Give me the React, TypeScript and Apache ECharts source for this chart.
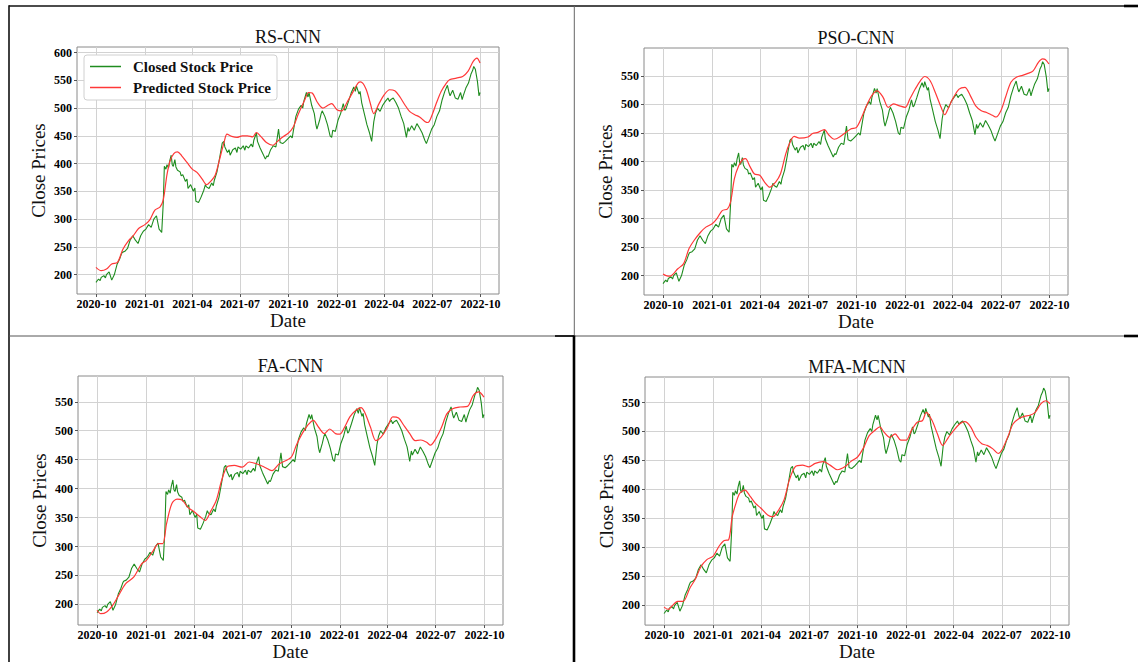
import React, { useEffect, useRef } from 'react';
import * as echarts from 'echarts';

const FONT = '"Liberation Serif", "Times New Roman", serif';

const panelTitles = ['RS-CNN', 'PSO-CNN', 'FA-CNN', 'MFA-MCNN'];
const xTickDates = ['2020-10-01', '2021-01-01', '2021-04-01', '2021-07-01', '2021-10-01', '2022-01-01', '2022-04-01', '2022-07-01', '2022-10-01'];
const yTicksRs = [200, 250, 300, 350, 400, 450, 500, 550, 600];
const yTicksOther = [200, 250, 300, 350, 400, 450, 500, 550];
const seriesNames = ['Closed Stock Price', 'Predicted Stock Price'];

const closedStockPrice: [string, number][] = [
  ['2020-09-30', 186], ['2020-10-05', 192], ['2020-10-08', 189], ['2020-10-10', 195], ['2020-10-15', 198], ['2020-10-18', 194],
  ['2020-10-20', 200], ['2020-10-25', 205], ['2020-10-30', 190], ['2020-11-04', 200], ['2020-11-09', 218], ['2020-11-14', 228],
  ['2020-11-17', 236], ['2020-11-19', 240], ['2020-11-24', 242], ['2020-11-29', 247], ['2020-12-04', 262], ['2020-12-09', 270],
  ['2020-12-14', 262], ['2020-12-19', 256], ['2020-12-24', 270], ['2020-12-29', 278], ['2021-01-03', 282], ['2021-01-08', 290],
  ['2021-01-13', 285], ['2021-01-18', 300], ['2021-01-23', 306], ['2021-01-28', 282], ['2021-02-02', 276], ['2021-02-05', 330],
  ['2021-02-07', 395], ['2021-02-10', 390], ['2021-02-12', 398], ['2021-02-15', 392], ['2021-02-17', 404], ['2021-02-20', 415],
  ['2021-02-22', 398], ['2021-02-24', 395], ['2021-02-27', 407], ['2021-03-01', 394], ['2021-03-04', 388], ['2021-03-09', 385],
  ['2021-03-11', 378], ['2021-03-14', 380], ['2021-03-19', 368], ['2021-03-22', 372], ['2021-03-24', 355], ['2021-03-29', 362],
  ['2021-04-03', 350], ['2021-04-06', 356], ['2021-04-08', 332], ['2021-04-13', 330], ['2021-04-18', 340], ['2021-04-23', 352],
  ['2021-04-26', 362], ['2021-04-28', 358], ['2021-05-03', 355], ['2021-05-08', 365], ['2021-05-11', 360], ['2021-05-13', 370],
  ['2021-05-18', 385], ['2021-05-23', 410], ['2021-05-28', 437], ['2021-05-31', 440], ['2021-06-02', 430], ['2021-06-07', 420],
  ['2021-06-10', 425], ['2021-06-12', 415], ['2021-06-17', 425], ['2021-06-22', 428], ['2021-06-25', 420], ['2021-06-27', 430],
  ['2021-07-02', 426], ['2021-07-07', 432], ['2021-07-10', 424], ['2021-07-12', 432], ['2021-07-17', 428], ['2021-07-22', 435],
  ['2021-07-25', 430], ['2021-07-27', 442], ['2021-08-01', 455], ['2021-08-03', 440], ['2021-08-08', 428], ['2021-08-13', 418],
  ['2021-08-18', 408], ['2021-08-21', 414], ['2021-08-23', 412], ['2021-08-28', 425], ['2021-09-02', 432], ['2021-09-07', 430],
  ['2021-09-12', 462], ['2021-09-15', 438], ['2021-09-20', 436], ['2021-09-25', 440], ['2021-09-30', 445], ['2021-10-05', 450],
  ['2021-10-08', 446], ['2021-10-10', 458], ['2021-10-15', 485], ['2021-10-20', 498], ['2021-10-25', 505], ['2021-10-28', 500],
  ['2021-10-30', 512], ['2021-11-04', 528], ['2021-11-07', 520], ['2021-11-09', 528], ['2021-11-14', 505], ['2021-11-19', 490],
  ['2021-11-22', 470], ['2021-11-24', 462], ['2021-11-29', 478], ['2021-12-02', 490], ['2021-12-04', 495], ['2021-12-09', 485],
  ['2021-12-14', 470], ['2021-12-19', 450], ['2021-12-22', 447], ['2021-12-24', 460], ['2021-12-29', 458], ['2022-01-03', 478],
  ['2022-01-08', 490], ['2022-01-13', 508], ['2022-01-16', 496], ['2022-01-18', 498], ['2022-01-23', 512], ['2022-01-28', 527],
  ['2022-02-02', 538], ['2022-02-05', 530], ['2022-02-07', 540], ['2022-02-12', 525], ['2022-02-14', 530], ['2022-02-17', 510],
  ['2022-02-22', 490], ['2022-02-27', 470], ['2022-03-04', 455], ['2022-03-08', 440], ['2022-03-12', 475], ['2022-03-15', 490],
  ['2022-03-19', 500], ['2022-03-24', 494], ['2022-03-29', 505], ['2022-04-03', 512], ['2022-04-08', 518], ['2022-04-11', 512],
  ['2022-04-13', 515], ['2022-04-18', 518], ['2022-04-23', 510], ['2022-04-28', 500], ['2022-05-03', 485], ['2022-05-08', 472],
  ['2022-05-13', 447], ['2022-05-16', 465], ['2022-05-18', 458], ['2022-05-23', 468], ['2022-05-28', 460], ['2022-06-02', 472],
  ['2022-06-07', 464], ['2022-06-12', 455], ['2022-06-17', 442], ['2022-06-20', 436], ['2022-06-25', 449], ['2022-06-30', 462],
  ['2022-07-05', 470], ['2022-07-10', 485], ['2022-07-15', 495], ['2022-07-20', 515], ['2022-07-25', 530], ['2022-07-30', 541],
  ['2022-08-02', 528], ['2022-08-04', 522], ['2022-08-09', 532], ['2022-08-14', 518], ['2022-08-19', 516], ['2022-08-24', 528],
  ['2022-08-27', 515], ['2022-08-29', 522], ['2022-09-03', 536], ['2022-09-08', 545], ['2022-09-13', 562], ['2022-09-16', 568],
  ['2022-09-18', 575], ['2022-09-21', 570], ['2022-09-25', 548], ['2022-09-28', 522], ['2022-09-30', 528],
];

const rsCnnPredicted: [string, number][] = [
  ['2020-09-30', 213], ['2020-10-10', 207], ['2020-10-20', 210], ['2020-10-30', 219], ['2020-11-10', 222], ['2020-11-20', 245],
  ['2020-12-01', 261], ['2020-12-10', 270], ['2020-12-20', 283], ['2021-01-01', 290], ['2021-01-10', 298], ['2021-01-20', 316],
  ['2021-01-30', 322], ['2021-02-05', 335], ['2021-02-12', 380], ['2021-02-18', 405], ['2021-02-25', 418], ['2021-03-04', 421],
  ['2021-03-12', 414], ['2021-03-22', 402], ['2021-04-01', 390], ['2021-04-10', 384], ['2021-04-20', 372], ['2021-04-28', 362],
  ['2021-05-06', 368], ['2021-05-15', 380], ['2021-05-25', 415], ['2021-06-01', 440], ['2021-06-06', 453], ['2021-06-15', 449],
  ['2021-06-25', 447], ['2021-07-05', 450], ['2021-07-15', 450], ['2021-07-25', 448], ['2021-08-01', 456], ['2021-08-10', 448],
  ['2021-08-20', 438], ['2021-09-01', 433], ['2021-09-10', 440], ['2021-09-20', 448], ['2021-10-01', 455], ['2021-10-10', 466],
  ['2021-10-20', 490], ['2021-11-01', 515], ['2021-11-08', 528], ['2021-11-15', 527], ['2021-11-25', 510], ['2021-12-05', 500],
  ['2021-12-15', 505], ['2021-12-22', 508], ['2022-01-01', 497], ['2022-01-10', 495], ['2022-01-20', 510], ['2022-02-01', 530],
  ['2022-02-10', 545], ['2022-02-15', 547], ['2022-02-25', 535], ['2022-03-05', 510], ['2022-03-12', 490], ['2022-03-22', 508],
  ['2022-04-01', 524], ['2022-04-11', 533], ['2022-04-21', 531], ['2022-04-30', 521], ['2022-05-10', 506], ['2022-05-19', 494],
  ['2022-05-29', 488], ['2022-06-07', 484], ['2022-06-17', 476], ['2022-06-23', 474], ['2022-07-01', 488], ['2022-07-09', 509],
  ['2022-07-18', 530], ['2022-07-28', 545], ['2022-08-03', 551], ['2022-08-16', 554], ['2022-08-28', 557], ['2022-09-07', 566],
  ['2022-09-17', 584], ['2022-09-24', 590], ['2022-09-30', 581],
];

const psoCnnPredicted: [string, number][] = [
  ['2020-09-30', 203], ['2020-10-06', 200], ['2020-10-13', 199], ['2020-10-28', 212], ['2020-11-08', 221], ['2020-11-18', 247],
  ['2020-11-28', 262], ['2020-12-10', 276], ['2020-12-20', 285], ['2021-01-01', 291], ['2021-01-10', 300], ['2021-01-20', 314],
  ['2021-01-30', 317], ['2021-02-05', 330], ['2021-02-12', 370], ['2021-02-20', 392], ['2021-02-28', 404], ['2021-03-05', 405],
  ['2021-03-13', 392], ['2021-03-22', 378], ['2021-04-01', 376], ['2021-04-10', 364], ['2021-04-20', 355], ['2021-05-01', 364],
  ['2021-05-10', 378], ['2021-05-20', 413], ['2021-05-27', 431], ['2021-06-05', 444], ['2021-06-15', 441], ['2021-07-01', 443],
  ['2021-07-10', 449], ['2021-07-20', 451], ['2021-08-01', 456], ['2021-08-10', 446], ['2021-08-20', 439], ['2021-08-30', 443],
  ['2021-09-20', 457], ['2021-10-01', 460], ['2021-10-11', 478], ['2021-10-20', 498], ['2021-10-30', 516], ['2021-11-09', 524],
  ['2021-11-20', 513], ['2021-11-30', 495], ['2021-12-10', 501], ['2021-12-20', 498], ['2022-01-01', 495], ['2022-01-10', 510],
  ['2022-01-20', 527], ['2022-01-30', 542], ['2022-02-07', 549], ['2022-02-17', 542], ['2022-02-27', 521], ['2022-03-10', 495],
  ['2022-03-17', 482], ['2022-03-24', 494], ['2022-04-01', 510], ['2022-04-13', 527], ['2022-04-24', 530], ['2022-05-04', 516],
  ['2022-05-14', 498], ['2022-05-25', 489], ['2022-06-04', 486], ['2022-06-15', 481], ['2022-06-22', 478], ['2022-07-01', 489],
  ['2022-07-10', 513], ['2022-07-20', 539], ['2022-07-31', 548], ['2022-08-11', 551], ['2022-08-20', 554], ['2022-08-31', 559],
  ['2022-09-10', 574], ['2022-09-18', 580], ['2022-09-23', 579], ['2022-09-30', 571],
];

const faCnnPredicted: [string, number][] = [
  ['2020-09-30', 190], ['2020-10-07', 184], ['2020-10-18', 187], ['2020-10-29', 198], ['2020-11-08', 213], ['2020-11-23', 236],
  ['2020-12-08', 247], ['2020-12-23', 270], ['2021-01-01', 276], ['2021-01-14', 293], ['2021-01-24', 305], ['2021-02-01', 305],
  ['2021-02-08', 339], ['2021-02-18', 374], ['2021-02-28', 382], ['2021-03-10', 380], ['2021-03-20', 368], ['2021-04-01', 360],
  ['2021-04-13', 351], ['2021-04-22', 345], ['2021-05-03', 362], ['2021-05-13', 380], ['2021-05-23', 414], ['2021-06-02', 437],
  ['2021-06-16', 440], ['2021-07-01', 437], ['2021-07-14', 446], ['2021-07-28', 443], ['2021-08-12', 437], ['2021-08-26', 431],
  ['2021-09-09', 443], ['2021-10-01', 454], ['2021-10-11', 475], ['2021-10-22', 495], ['2021-11-01', 509], ['2021-11-12', 518],
  ['2021-11-22', 506], ['2021-12-03', 495], ['2021-12-13', 503], ['2021-12-24', 495], ['2022-01-01', 494], ['2022-01-10', 506],
  ['2022-01-20', 524], ['2022-01-31', 535], ['2022-02-10', 540], ['2022-02-17', 532], ['2022-02-28', 506], ['2022-03-10', 483],
  ['2022-03-20', 489], ['2022-04-01', 506], ['2022-04-11', 524], ['2022-04-22', 522], ['2022-05-02', 509], ['2022-05-13', 495],
  ['2022-05-23', 483], ['2022-06-03', 484], ['2022-06-14', 480], ['2022-06-21', 475], ['2022-07-01', 486], ['2022-07-12', 506],
  ['2022-07-22', 529], ['2022-08-02', 538], ['2022-08-16', 541], ['2022-08-30', 542], ['2022-09-10', 561], ['2022-09-20', 567],
  ['2022-09-30', 558],
];

const mfaMcnnPredicted: [string, number][] = [
  ['2020-09-30', 197], ['2020-10-08', 193], ['2020-10-15', 199], ['2020-10-26', 207], ['2020-11-05', 207], ['2020-11-18', 230],
  ['2020-11-28', 245], ['2020-12-09', 267], ['2020-12-20', 279], ['2021-01-01', 285], ['2021-01-12', 302], ['2021-01-22', 312],
  ['2021-01-30', 313], ['2021-02-06', 353], ['2021-02-13', 376], ['2021-02-20', 393], ['2021-03-02', 399], ['2021-03-12', 388],
  ['2021-03-22', 376], ['2021-04-01', 368], ['2021-04-14', 356], ['2021-04-24', 353], ['2021-05-05', 365], ['2021-05-15', 382],
  ['2021-05-25', 416], ['2021-06-05', 439], ['2021-06-19', 442], ['2021-07-01', 439], ['2021-07-13', 445], ['2021-07-28', 448],
  ['2021-08-10', 442], ['2021-08-24', 434], ['2021-09-07', 439], ['2021-09-18', 448], ['2021-10-01', 456], ['2021-10-13', 473],
  ['2021-10-23', 493], ['2021-11-03', 502], ['2021-11-12', 508], ['2021-11-20', 499], ['2021-12-01', 490], ['2021-12-11', 496],
  ['2021-12-22', 485], ['2022-01-01', 485], ['2022-01-11', 502], ['2022-01-22', 516], ['2022-02-01', 519], ['2022-02-08', 533],
  ['2022-02-19', 519], ['2022-03-01', 496], ['2022-03-11', 476], ['2022-03-22', 490], ['2022-04-01', 502], ['2022-04-12', 513],
  ['2022-04-22', 517], ['2022-05-03', 508], ['2022-05-13', 490], ['2022-05-24', 479], ['2022-06-03', 476], ['2022-06-14', 470],
  ['2022-06-24', 462], ['2022-07-01', 468], ['2022-07-12', 490], ['2022-07-22', 513], ['2022-08-02', 522], ['2022-08-12', 526],
  ['2022-08-23', 528], ['2022-09-02', 533], ['2022-09-13', 548], ['2022-09-22', 553], ['2022-09-30', 548],
];

const predictedSeries = [rsCnnPredicted, psoCnnPredicted, faCnnPredicted, mfaMcnnPredicted];
const yTickSets = [yTicksRs, yTicksOther, yTicksOther, yTicksOther];
const yRanges: [number, number][] = [[165, 610], [166, 599], [164.5, 594.5], [166, 594]];
const xRange = ['2020-08-25', '2022-11-05'];

// layout (pixels)
const grids = [
  { left: 77, top: 47, width: 422, height: 247 },
  { left: 644, top: 48, width: 424, height: 247 },
  { left: 78, top: 376, width: 425, height: 249 },
  { left: 645, top: 377, width: 424, height: 249 },
];

const toTime = (s: string) => Date.parse(s + 'T00:00:00Z');
const withTime = (rows: [string, number][]) => rows.map(([d, v]) => [toTime(d), v]);

function fmtMonth(v: number) {
  const d = new Date(v);
  return d.getUTCFullYear() + '-' + String(d.getUTCMonth() + 1).padStart(2, '0');
}

export default function App() {
  const ref = useRef<HTMLDivElement>(null);
  useEffect(() => {
    if (!ref.current) return;
    const chart = echarts.init(ref.current, undefined, { renderer: 'svg' });
    const tickLabelStyle = { fontFamily: FONT, fontWeight: 'bold' as const, fontSize: 12, color: '#000' };
    const nameStyle = { fontFamily: FONT, fontSize: 19, color: '#111' };
    const xTicks = xTickDates.map(toTime);

    const option: any = {
      animation: false,
      backgroundColor: '#fff',
      grid: grids.map((g) => ({ ...g, show: true, borderColor: '#8a8a8a', borderWidth: 1, backgroundColor: 'transparent' })),
      xAxis: grids.map((_, i) => ({
        type: 'value',
        gridIndex: i,
        min: toTime(xRange[0]),
        max: toTime(xRange[1]),
        name: 'Date',
        nameLocation: 'middle',
        nameGap: 14,
        nameTextStyle: nameStyle,
        axisLine: { show: false },
        axisTick: { show: true, length: 3, customValues: xTicks, lineStyle: { color: '#555' } },
        axisLabel: { customValues: xTicks, formatter: fmtMonth, margin: 4, ...tickLabelStyle },
        splitLine: { show: true, lineStyle: { color: '#d2d2d2', width: 1 } },
      })),
      yAxis: grids.map((_, i) => ({
        type: 'value',
        gridIndex: i,
        min: yRanges[i][0],
        max: yRanges[i][1],
        name: 'Close Prices',
        nameLocation: 'middle',
        nameGap: 29,
        nameTextStyle: nameStyle,
        axisLine: { show: false },
        axisTick: { show: true, length: 3, customValues: yTickSets[i], lineStyle: { color: '#555' } },
        axisLabel: { customValues: yTickSets[i], margin: 5, ...tickLabelStyle },
        splitLine: { show: true, lineStyle: { color: '#d2d2d2', width: 1 } },
      })),
      legend: {
        left: 84,
        top: 55,
        orient: 'vertical',
        data: [
          { name: seriesNames[0], icon: 'rect' },
          { name: seriesNames[1], icon: 'rect' },
        ],
        itemWidth: 31,
        itemHeight: 1.5,
        itemGap: 6,
        padding: [4, 6, 5, 6],
        backgroundColor: '#fff',
        borderColor: '#d0d0d0',
        borderWidth: 1,
        borderRadius: 3,
        textStyle: { fontFamily: FONT, fontWeight: 'bold', fontSize: 15, color: '#111', lineHeight: 15, padding: [0, 0, 0, 7] },
      },
      series: grids.flatMap((_, i) => [
        {
          name: seriesNames[0],
          type: 'line',
          xAxisIndex: i,
          yAxisIndex: i,
          data: withTime(closedStockPrice),
          showSymbol: false,
          symbol: 'none',
          lineStyle: { color: '#1f8c1f', width: 1.1 },
          itemStyle: { color: '#1f8c1f' },
          z: 2,
        },
        {
          name: seriesNames[1],
          type: 'line',
          xAxisIndex: i,
          yAxisIndex: i,
          data: withTime(predictedSeries[i]),
          showSymbol: false,
          symbol: 'none',
          smooth: 0.3,
          lineStyle: { color: '#ff3838', width: 1.2 },
          itemStyle: { color: '#ff3838' },
          z: 3,
        },
      ]),
      graphic: [
        ...grids.map((g, i) => ({
          type: 'text',
          x: g.left + g.width / 2,
          y: g.top - 10,
          style: { text: panelTitles[i], font: `18px ${FONT}`, fill: '#111', textAlign: 'center', textVerticalAlign: 'middle' },
        })),
        // table borders
        { type: 'line', shape: { x1: 9, y1: 6, x2: 1124, y2: 6 }, style: { stroke: '#111', lineWidth: 1.6 } },
        { type: 'line', shape: { x1: 1124, y1: 6, x2: 1138, y2: 6 }, style: { stroke: '#000', lineWidth: 2.6 } },
        { type: 'line', shape: { x1: 9, y1: 5.2, x2: 9, y2: 662 }, style: { stroke: '#111', lineWidth: 1.6 } },
        { type: 'line', shape: { x1: 9, y1: 336, x2: 1124, y2: 336 }, style: { stroke: '#555', lineWidth: 1 } },
        { type: 'line', shape: { x1: 555, y1: 336, x2: 574, y2: 336 }, style: { stroke: '#000', lineWidth: 1.6 } },
        { type: 'line', shape: { x1: 1124, y1: 336, x2: 1138, y2: 336 }, style: { stroke: '#000', lineWidth: 2.6 } },
        { type: 'line', shape: { x1: 574.3, y1: 6, x2: 574.3, y2: 336 }, style: { stroke: '#666', lineWidth: 1 } },
        { type: 'line', shape: { x1: 574, y1: 335.5, x2: 574, y2: 662 }, style: { stroke: '#000', lineWidth: 2.6 } },
      ],
    };
    chart.setOption(option);
    return () => chart.dispose();
  }, []);
  return <div ref={ref} style={{ position: 'fixed', left: 0, top: 0, width: 1138, height: 662, background: '#fff' }} />;
}
